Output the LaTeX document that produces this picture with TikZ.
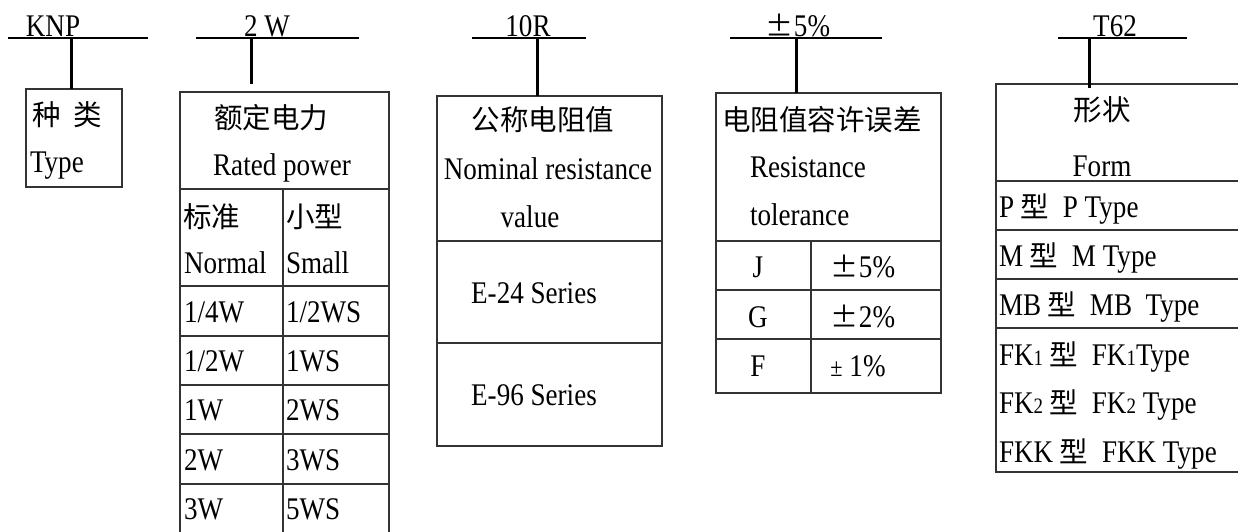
\documentclass[tikz,border=0pt]{standalone}
\usepackage{fontspec}
\setmainfont{Liberation Serif}[FakeStretch=0.86]
\newfontfamily\cjkfont{Noto Sans CJK SC}
\newfontfamily\cjkfw{Noto Sans CJK SC}[CharacterWidth=Full]
\newcommand\zh[1]{{\cjkfont\fontsize{28.5}{34}\selectfont #1}}
\newcommand\sm[1]{{\fontsize{22}{24}\selectfont #1}}
\newcommand\bigpm{{\cjkfw\fontsize{28}{30}\selectfont ±}}
\begin{document}
\begin{tikzpicture}[x=1pt,y=-1pt,
  font=\fontsize{31.5}{36}\selectfont,
  txt/.style={inner sep=0pt, outer sep=0pt},
  bl/.style={txt, anchor=base west},
  bc/.style={txt, anchor=base},
  zc/.style={txt, anchor=center},
  zl/.style={txt, anchor=west},
  hline/.style={line width=1.5pt, black},
  conn/.style={line width=3pt, black},
  grid/.style={line width=1.3pt, draw=black!80},
  boxn/.style={draw=black!80, line width=1.3pt, inner sep=0pt, outer sep=0pt, anchor=north west}
]
\useasboundingbox (0,0) rectangle (1238,531);
\clip (0,0) rectangle (1238,531);

% ---------- headers ----------
\node[bc] (h1) at (53,36) {KNP};
\node[bc] (h2) at (267,36) {2 W};
\node[bc] (h3) at (528,36) {10R};
\node[bc] (h4) at (798,36) {\bigpm 5\%};
\node[bc] (h5) at (1115,36) {T62};

\coordinate (l1a) at (8,38);    \coordinate (l1b) at (148,38);
\coordinate (l2a) at (196,38);  \coordinate (l2b) at (359,38);
\coordinate (l3a) at (472,38);  \coordinate (l3b) at (586,38);
\coordinate (l4a) at (730,38);  \coordinate (l4b) at (882,38);
\coordinate (l5a) at (1058,38); \coordinate (l5b) at (1187,38);
\draw[hline] (l1a) -- (l1b);
\draw[hline] (l2a) -- (l2b);
\draw[hline] (l3a) -- (l3b);
\draw[hline] (l4a) -- (l4b);
\draw[hline] (l5a) -- (l5b);

\coordinate (j1) at (71,38);
\coordinate (j2) at (251,38);
\coordinate (j3) at (537,38);
\coordinate (j4) at (796,38);
\coordinate (j5) at (1089,38);

% ---------- boxes ----------
\node[boxn, minimum width=96pt,  minimum height=98pt]  (b1) at (26,89) {};
\node[boxn, minimum width=209pt, minimum height=460pt] (b2) at (180,92) {};
\node[boxn, minimum width=225pt, minimum height=350pt] (b3) at (437,96) {};
\node[boxn, minimum width=225pt, minimum height=300pt] (b4) at (716,93) {};
\node[boxn, minimum width=270pt, minimum height=388pt] (b5) at (996,84) {};

% connectors
\draw[conn] (j1) -- (j1 |- b1.north);
\draw[conn] (j2) -- ([yshift=8pt]j2 |- b2.north);
\draw[conn] (j3) -- (j3 |- b3.north);
\draw[conn] (j4) -- (j4 |- b4.north);
\draw[conn] (j5) -- ([yshift=-4pt]j5 |- b5.north);

% ---------- box 1 ----------
\node[zl] (t1a) at (32,115) {\zh{种\hspace{0.45em}类}};
\node[bl] (t1b) at (30,172) {Type};

% ---------- box 2 ----------
\draw[grid] (180,189) -- (389,189);
\draw[grid] (283,189) -- (283,540);
\foreach \yy in {286,336,385,434,484} \draw[grid] (180,\yy) -- (389,\yy);
\node[zc] (t2a) at (271,118) {\zh{额定电力}};
\node[bc] (t2b) at (282,175) {Rated power};
\node[zl] (t2c) at (183,217) {\zh{标准}};
\node[zl] (t2d) at (286,217) {\zh{小型}};
\node[bl] (t2e) at (184,273) {Normal};
\node[bl] (t2f) at (286,273) {Small};
\node[bl] (r1a) at (184,322) {1/4W};  \node[bl] (r1b) at (286,322) {1/2WS};
\node[bl] (r2a) at (184,371) {1/2W};  \node[bl] (r2b) at (286,371) {1WS};
\node[bl] (r3a) at (184,420) {1W};    \node[bl] (r3b) at (286,420) {2WS};
\node[bl] (r4a) at (184,470) {2W};    \node[bl] (r4b) at (286,470) {3WS};
\node[bl] (r5a) at (184,519) {3W};    \node[bl] (r5b) at (286,519) {5WS};

% ---------- box 3 ----------
\draw[grid] (437,241) -- (662,241);
\draw[grid] (437,343) -- (662,343);
\node[zc] (t3a) at (543,120) {\zh{公称电阻值}};
\node[bc] (t3b) at (548,179) {Nominal resistance};
\node[bc] (t3c) at (530,227) {value};
\node[bc] (t3d) at (534,303) {E-24 Series};
\node[bc] (t3e) at (534,405) {E-96 Series};

% ---------- box 4 ----------
\draw[grid] (716,241) -- (941,241);
\draw[grid] (716,290) -- (941,290);
\draw[grid] (716,339) -- (941,339);
\draw[grid] (811,241) -- (811,393);
\node[zl] (t4a) at (722,120) {\zh{电阻值容许误差}};
\node[bl] (t4b) at (750,177) {Resistance};
\node[bl] (t4c) at (750,225) {tolerance};
\node[bc] (t4d) at (758,277) {J};  \node[bc] (t4e) at (863,277) {\bigpm 5\%};
\node[bc] (t4f) at (758,327) {G};  \node[bc] (t4g) at (863,327) {\bigpm 2\%};
\node[bc] (t4h) at (758,376) {F};  \node[bc] (t4i) at (858,376) {{\fontsize{26}{28}\selectfont ±} 1\%};

% ---------- box 5 ----------
\foreach \yy in {181,230,279,328} \draw[grid] (996,\yy) -- (1260,\yy);
\node[zc] (t5a) at (1102,110) {\zh{形状}};
\node[bc] (t5b) at (1102,176) {Form};
\node[bl] (s1) at (999,217) {P \zh{型}\ \ P Type};
\node[bl] (s2) at (999,266) {M \zh{型}\ \ M Type};
\node[bl] (s3) at (999,315) {MB \zh{型}\ \ MB\ \ Type};
\node[bl] (s4) at (999,365) {FK\sm{1} \zh{型}\ \ FK\sm{1}Type};
\node[bl] (s5) at (999,413) {FK\sm{2} \zh{型}\ \ FK\sm{2} Type};
\node[bl] (s6) at (999,462) {FKK \zh{型}\ \ FKK Type};
\end{tikzpicture}
\end{document}
